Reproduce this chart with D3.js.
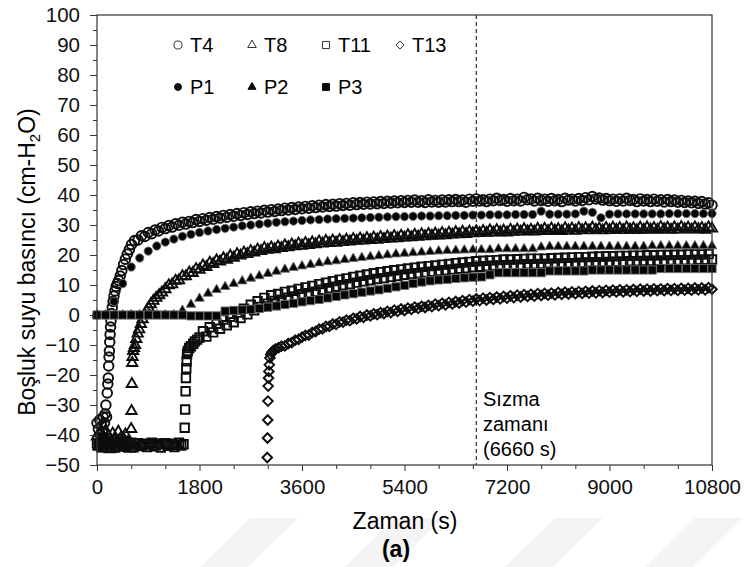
<!DOCTYPE html>
<html>
<head>
<meta charset="utf-8">
<script src="https://cdn.jsdelivr.net/npm/d3@7"></script>
<style>
  body { margin: 0; background: #fff; }
  svg { font-family: "Liberation Sans", Arial, sans-serif; }
  .tick text { font-size: 20.5px; fill: #111; }
  .tick line { stroke: #333; }
</style>
</head>
<body>
<svg width="749" height="567"></svg>
<script>
// sampling steps of the loggers (s)
const tStep = 60;
const pStep = 150;

// T4 tensiometer (open circles)
const t4HeadTime = [0,12,24,36,48,60,72,84,96,108,120,132,144,156,168,180,190,198,205,212,218,224,230,238,246,256,268,282,298,316,336,358,382,408,436,466,498,532,568,606];
const t4HeadVal = [-36,-41,-38,-43,-35,-40,-42,-37,-39,-34,-41,-36,-33,-30,-34,-26,-23,-21,-17,-14,-12,-9,-6.5,-4,-2,0.5,2.5,4.5,6.3,8.0,9.5,10.5,11.5,13.0,14.8,16.8,18.6,20.3,21.8,23.5];
const t4Start = 660;
const t4Body = [
  24.8,25.0,26.4,26.2,27.5,27.1,28.3,28.0,29.2,28.8,
  29.8,29.3,30.4,29.9,30.9,30.3,31.2,30.8,31.8,31.2,
  32.1,31.6,32.5,31.9,32.8,32.3,33.2,32.6,33.5,32.9,
  33.8,33.2,34.1,33.5,34.4,33.8,34.6,34.0,34.9,34.3,
  35.1,34.5,35.3,34.8,35.6,35.0,35.8,35.2,36.0,35.4,
  36.2,35.6,36.4,35.8,36.6,36.0,36.8,36.2,36.9,36.3,
  37.1,36.5,37.2,36.6,37.4,36.8,37.5,36.9,37.6,37.0,
  37.7,37.1,37.8,37.2,37.9,37.3,38.0,37.4,38.1,37.5,
  38.2,37.6,38.3,37.6,38.1,37.5,38.4,37.7,38.2,37.6,
  38.3,37.7,38.4,37.8,38.5,37.8,38.3,37.6,38.6,37.9,
  38.7,38.0,38.4,37.8,38.6,38.1,38.9,38.2,38.5,37.9,
  38.8,38.1,38.6,38.0,39.2,38.4,38.7,38.0,38.9,38.2,
  38.6,37.9,38.8,38.1,38.5,37.8,38.9,38.3,38.6,38.0,
  38.8,38.2,39.1,38.4,39.5,38.7,39.0,38.3,38.8,38.1,
  38.6,37.9,38.7,38.0,38.9,38.2,38.5,37.8,38.7,38.0,
  38.5,37.8,38.6,37.9,38.4,37.7,38.5,37.8,38.3,37.6,
  38.2,37.5,38.0,37.4,37.9,37.2,37.8,37.0,37.4,36.6
];

// T8 tensiometer (open triangles)
const t8HeadTime = [0,25,50,75,100,125,150,175,200,225,250,275,300,325,350,375,400,425,450,475,500,525,550,575,
  600,606,612,618,624,635,650,667,690,715,740,770,800,835,870,905,945,990,1040,1090,1140,1200];
const t8HeadVal = [-40.5,-43.8,-39.2,-42.6,-44.5,-41.0,-38.6,-43.1,-40.2,-44.8,-42.0,-39.5,-43.5,-41.2,-44.2,-38.9,-42.8,-40.7,-44.0,-41.5,-39.8,-43.3,-42.1,-44.6,
  -38,-32,-23,-16,-14,-12,-11,-10,-8,-6.2,-4.8,-3,-1.4,0,1.3,2.5,3.6,4.7,5.7,6.6,7.5,8.6];
const t8Start = 1260;
const t8Body = [
  9.9,10.2,11.4,11.6,12.9,12.9,14.1,14.0,15.3,15.1,
  16.5,16.0,17.4,17.0,18.2,17.8,18.9,18.4,19.7,19.1,
  20.3,19.8,20.8,20.3,21.3,20.8,21.8,21.3,22.3,21.7,
  22.5,21.9,22.8,22.3,23.2,22.6,23.5,22.9,23.8,23.1,
  24.0,23.3,24.2,23.6,24.5,23.8,24.7,24.0,24.8,24.1,
  25.0,24.3,25.1,24.5,25.3,24.7,25.5,24.8,25.6,25.0,
  25.8,25.1,26.0,25.3,26.1,25.5,26.3,25.6,26.4,25.8,
  26.6,25.9,26.7,26.1,26.9,26.2,27.0,26.4,27.1,26.5,
  27.3,26.6,27.4,26.8,27.6,26.9,27.7,27.0,27.8,27.2,
  27.9,27.3,28.0,27.4,28.2,27.5,28.3,27.6,28.1,27.5,
  28.4,27.7,28.5,27.8,28.6,27.9,28.4,27.8,28.7,28.0,
  28.7,28.0,28.8,28.1,28.6,28.0,28.9,28.2,28.8,28.1,
  29.0,28.3,28.9,28.2,29.1,28.4,28.8,28.2,29.0,28.3,
  29.1,28.4,29.0,28.3,29.2,28.5,28.9,28.3,29.1,28.4,
  29.2,28.5,29.0,28.4,29.3,28.6,29.1,28.4,29.2,28.5,
  29.3,28.6,29.1,28.5,29.2,28.6,29.0,28.4,29.2,28.8
];

// T11 tensiometer (open squares)
const t11HeadTime = [0,40,80,120,160,200,240,280,320,360,400,440,480,520,560,600,640,680,720,760,800,840,880,920,960,1000,1040,1080,1120,1160,1200,1240,1280,1320,1360,1400,1440,1480,1520,
  1540,1548,1556,1562,1568,1574,1582,1595,1620,1650,1690,1720,1760,1800];
const t11HeadVal = [-42.8,-43.5,-42.2,-44.0,-43.1,-42.5,-43.8,-42.9,-44.2,-43.0,-42.4,-43.6,-42.8,-43.9,-43.2,-42.6,-44.1,-43.0,-42.7,-43.7,-43.3,-42.9,-44.0,-43.1,-42.6,-43.8,-43.4,-42.8,-44.2,-43.0,-42.7,-43.6,-43.2,-42.9,-44.0,-43.3,-42.6,-43.5,-43.1,
  -37.6,-31.5,-25.4,-21,-17.7,-15.4,-13,-12,-11,-10.4,-9.6,-8.8,-8.2,-7.5];
const t11Start = 1860;
const t11Body = [
  -5.4,-7.2,-4.1,-5.8,-2.9,-4.6,-1.5,-3.4,-0.6,-2.4,
  0.8,-1.0,2.1,0.2,3.4,1.6,4.6,2.7,5.7,3.8,
  6.6,4.7,7.0,5.1,7.7,5.8,8.1,6.2,8.7,6.9,
  9.2,7.3,9.7,7.8,10.3,8.4,10.8,8.9,11.3,9.4,
  11.8,9.9,12.2,10.3,12.7,10.8,13.1,11.2,13.5,11.6,
  13.9,12.0,14.3,12.3,14.6,12.7,14.9,13.0,15.2,13.4,
  15.5,13.7,15.8,13.9,16.1,14.2,16.3,14.4,16.5,14.7,
  16.8,14.9,17.0,15.2,17.3,15.4,17.5,15.6,17.7,15.9,
  17.9,16.1,18.1,16.3,18.2,16.4,18.3,16.5,18.5,16.6,
  18.5,16.7,18.6,16.8,18.7,16.9,18.8,16.9,18.8,17.0,
  18.8,17.0,18.9,17.1,19.0,17.2,19.1,17.2,19.2,17.3,
  19.3,17.4,19.3,17.5,19.4,17.6,19.5,17.6,19.6,17.7,
  19.6,17.8,19.7,17.8,19.7,17.9,19.8,17.9,19.8,18.0,
  19.9,18.0,19.9,18.1,20.0,18.1,20.0,18.2,20.1,18.2,
  20.1,18.3,20.2,18.3,20.2,18.4,20.2,18.4,20.3,18.5
];

// T13 tensiometer (open diamonds)
const t13HeadTime = [2990,2994,2998,3002,3006,3012,3018,3026,3036,3050,3070,3100,3140,3190,3240,3300,3360,3420,3480,3540,3600];
const t13HeadVal = [-47.5,-41,-35,-28.7,-23.7,-21,-18.8,-16.6,-14.3,-13.2,-12.4,-11.8,-11.3,-10.9,-10.4,-10.3,-9.5,-9.2,-8.4,-8.1,-7.4];
const t13Start = 3660;
const t13Body = [
  -6.8,-6.7,-5.8,-5.5,-4.7,-4.6,-3.8,-3.8,-3.0,-3.1,
  -2.3,-2.4,-1.7,-1.9,-1.1,-1.3,-0.5,-0.8,0.0,-0.3,
  0.4,0.1,0.8,0.5,1.2,0.8,1.6,1.2,2.0,1.5,
  2.3,1.9,2.6,2.2,2.9,2.5,3.2,2.8,3.6,3.1,
  3.9,3.4,4.2,3.7,4.5,4.0,4.8,4.3,5.1,4.6,
  5.4,4.8,5.6,5.0,5.8,5.2,6.0,5.4,6.2,5.6,
  6.4,5.8,6.6,6.0,6.8,6.2,6.9,6.3,7.1,6.5,
  7.2,6.6,7.3,6.7,7.5,6.9,7.6,7.0,7.7,7.1,
  7.8,7.2,7.9,7.3,8.0,7.4,8.1,7.5,8.2,7.6,
  8.3,7.7,8.4,7.7,8.4,7.8,8.5,7.9,8.6,8.0,
  8.6,8.0,8.7,8.1,8.7,8.1,8.8,8.2,8.8,8.2,
  8.9,8.3,8.9,8.3,9.0,8.4,9.0,8.4,9.1,8.6
];

// piezometers, one reading every pStep seconds from t = 0
const p1Val = [
  0,0,4.5,10.5,16.0,19.0,21.3,23.0,24.3,25.3,
  26.2,26.9,27.5,28.0,28.5,28.9,29.3,29.7,30.0,30.3,
  30.6,30.9,31.1,31.3,31.5,31.7,31.8,32.0,32.1,32.2,
  32.3,32.4,32.5,32.6,32.7,32.8,32.8,32.9,33.0,33.0,
  33.1,33.1,33.2,33.2,33.3,33.3,33.4,33.4,33.4,33.5,
  33.5,33.5,34.6,33.6,33.6,33.6,33.7,34.6,34.2,32.4,
  33.6,33.7,33.7,33.7,33.7,33.7,33.7,33.8,33.8,33.8,
  33.8,33.8,33.8
];
const p2Val = [
  0,0,0,0,0,0,0,0,0,0,
  1.5,3.5,5.5,7.2,8.4,9.4,10.4,11.3,12.2,13.0,
  13.8,14.5,15.2,15.8,16.3,16.8,17.3,17.7,18.0,18.4,
  18.8,19.1,19.4,19.7,20.0,20.3,20.5,20.7,20.9,21.1,
  21.3,21.4,21.5,21.6,21.7,21.7,21.7,22.0,22.0,22.0,
  22.0,22.0,22.6,22.8,22.8,22.8,22.8,22.8,22.8,22.8,
  22.8,22.8,22.8,22.8,22.8,23.0,23.0,23.0,23.0,23.0,
  23.0,23.0,23.0
];
const p3Val = [
  0,0,0,0,0,0,0,0,0,0,
  0,-0.3,-0.3,-0.3,-0.3,1.3,1.5,1.7,1.9,2.2,
  2.6,3.0,3.5,3.9,4.4,4.8,5.2,5.7,6.2,6.7,
  7.1,7.6,8.0,8.4,8.9,9.4,9.9,10.5,11.0,11.4,
  11.7,11.9,12.2,12.4,12.6,12.7,13.4,14.1,14.1,14.1,
  14.1,14.1,14.1,14.7,14.7,14.7,14.7,14.7,15.0,15.0,
  15.0,15.0,15.0,15.0,15.0,15.0,15.5,15.5,15.5,15.5,
  15.5,15.5,15.5
];

const xMajor = [0, 1800, 3600, 5400, 7200, 9000, 10800];
const yMajor = [-50, -40, -30, -20, -10, 0, 10, 20, 30, 40, 50, 60, 70, 80, 90, 100];
const seepTime = 6660;
const seriesNames = ["T4", "T8", "T11", "T13", "P1", "P2", "P3"];

const svg = d3.select("svg");
const x = d3.scaleLinear().domain([0, 10800]).range([97, 712]);
const y = d3.scaleLinear().domain([-50, 100]).range([465, 15]);

function joinSeries(headT, headV, start, body) {
  const pts = headT.map((t, i) => ({ t: t, v: headV[i] }));
  body.forEach((v, i) => pts.push({ t: start + i * tStep, v: v }));
  return pts;
}
const pSeries = (vals) => vals.map((v, i) => ({ t: i * pStep, v: v }));

const diamond = {
  draw(ctx, size) {
    const r = Math.sqrt(size / 2);
    ctx.moveTo(0, -r); ctx.lineTo(r, 0); ctx.lineTo(0, r); ctx.lineTo(-r, 0); ctx.closePath();
  }
};

const series = [
  { name: "T13", pts: joinSeries(t13HeadTime, t13HeadVal, t13Start, t13Body), type: diamond, size: 46, filled: false },
  { name: "T11", pts: joinSeries(t11HeadTime, t11HeadVal, t11Start, t11Body), type: d3.symbolSquare, size: 72, filled: false },
  { name: "T8", pts: joinSeries(t8HeadTime, t8HeadVal, t8Start, t8Body), type: d3.symbolTriangle, size: 46, filled: false },
  { name: "T4", pts: joinSeries(t4HeadTime, t4HeadVal, t4Start, t4Body), type: d3.symbolCircle, size: 72, filled: false },
  { name: "P1", pts: pSeries(p1Val), type: d3.symbolCircle, size: 54, filled: true },
  { name: "P2", pts: pSeries(p2Val), type: d3.symbolTriangle, size: 40, filled: true },
  { name: "P3", pts: pSeries(p3Val), type: d3.symbolSquare, size: 68, filled: true }
];

// watermark stripes
const stripes = [200, 345, 505, 645];
svg.selectAll("path.stripe").data(stripes).enter().append("path")
  .attr("class", "stripe")
  .attr("d", (d) => `M${d},567 L${d + 48},567 L${d + 98},518 L${d + 50},518 Z`)
  .attr("fill", "#f4f4f4");

// markers
series.forEach((s) => {
  const sym = d3.symbol().type(s.type).size(s.size);
  svg.append("g").attr("class", "series-" + s.name)
    .selectAll("path").data(s.pts).enter().append("path")
    .attr("transform", (d) => `translate(${x(d.t)},${y(d.v)})`)
    .attr("d", sym)
    .attr("fill", s.filled ? "#050505" : "none")
    .attr("stroke", s.filled ? "#6e6e6e" : "#0d0d0d")
    .attr("stroke-width", s.filled ? 0.9 : 1.9);
});

// seepage time marker
svg.append("line")
  .attr("x1", x(seepTime)).attr("x2", x(seepTime))
  .attr("y1", y(100)).attr("y2", y(-50))
  .attr("stroke", "#000").attr("stroke-width", 1)
  .attr("stroke-dasharray", "4,3");

// frame
svg.append("rect")
  .attr("x", 97).attr("y", 15).attr("width", 615).attr("height", 450)
  .attr("fill", "none").attr("stroke", "#333").attr("stroke-width", 1.2);

// axes
const xMinor = d3.range(0, 10801, 600).filter((d) => d % 1800 !== 0);
const yMinor = d3.range(-45, 100, 10);

svg.append("g").attr("transform", "translate(0,465)")
  .call(d3.axisBottom(x).tickValues(xMajor).tickSize(6).tickPadding(8).tickFormat(d3.format("d")));
svg.append("g").attr("transform", "translate(0,465)")
  .call(d3.axisBottom(x).tickValues(xMinor).tickSize(4).tickFormat(""));
svg.append("g").attr("transform", "translate(97,0)")
  .call(d3.axisLeft(y).tickValues(yMajor).tickSize(7).tickPadding(10));
svg.append("g").attr("transform", "translate(97,0)")
  .call(d3.axisLeft(y).tickValues(yMinor).tickSize(4).tickFormat(""));
svg.selectAll(".domain").remove();

// axis titles
svg.append("text")
  .attr("x", 405).attr("y", 529)
  .attr("text-anchor", "middle")
  .attr("font-size", 23)
  .text("Zaman (s)");
svg.append("text")
  .attr("x", 396).attr("y", 557)
  .attr("text-anchor", "middle")
  .attr("font-size", 23).attr("font-weight", "bold")
  .text("(a)");

const yTitle = svg.append("text")
  .attr("transform", "translate(35,262) rotate(-90)")
  .attr("text-anchor", "middle")
  .attr("font-size", 23);
yTitle.append("tspan").text("Boşluk suyu basıncı (cm-H");
yTitle.append("tspan").attr("font-size", 15).attr("dy", 5).text("2");
yTitle.append("tspan").attr("dy", -5).text("O)");

// annotation
const note = ["Sızma", "zamanı", "(6660 s)"];
svg.selectAll("text.note").data(note).enter().append("text")
  .attr("class", "note")
  .attr("x", 483)
  .attr("y", (d, i) => 406 + i * 25)
  .attr("font-size", 20)
  .text((d) => d);

// legend
const legendPos = [
  [178, 45], [252, 45], [326, 45], [400, 45],
  [178, 87], [252, 87], [326, 87]
];
const legendSeries = seriesNames.map((n) => series.find((s) => s.name === n));
const lg = svg.selectAll("g.legend").data(legendSeries).enter().append("g")
  .attr("class", "legend")
  .attr("transform", (d, i) => `translate(${legendPos[i][0]},${legendPos[i][1]})`);
lg.append("path")
  .attr("d", (d) => d3.symbol().type(d.type).size(d.size * 0.7)())
  .attr("fill", (d) => d.filled ? "#0b0b0b" : "none")
  .attr("stroke", (d) => d.filled ? "#0b0b0b" : "#333")
  .attr("stroke-width", 1);
lg.append("text")
  .attr("x", 12).attr("y", 7)
  .attr("font-size", 20)
  .text((d) => d.name);
</script>
</body>
</html>
